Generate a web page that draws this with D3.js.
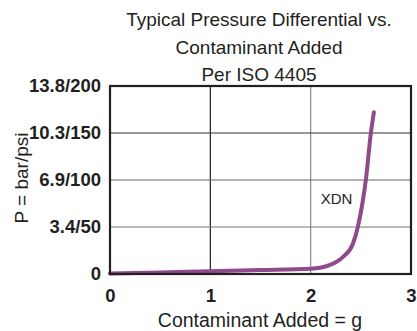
<!DOCTYPE html>
<html><head><meta charset="utf-8">
<script src="https://cdn.jsdelivr.net/npm/d3@7"></script>
<style>body{margin:0;background:#fff;}svg{display:block;}text{font-family:"Liberation Sans",Arial,sans-serif;fill:#231f20;}</style>
</head><body>
<script>
const titleLines = ["Typical Pressure Differential vs.", "Contaminant Added", "Per ISO 4405"];
const xTicks = [0, 1, 2, 3];
const yTicks = [0, 50, 100, 150, 200];
const yTickLabels = ["0", "3.4/50", "6.9/100", "10.3/150", "13.8/200"];
const gridColorsX = ["#231f20", "#231f20", "#8a8a8a", "#231f20"];
const gridColorsY = ["#231f20", "#777", "#666", "#333", "#231f20"];
const seriesName = "XDN";
const contaminant = [0, 0.5, 1, 1.5, 2, 2.2, 2.32, 2.42, 2.47, 2.52, 2.55, 2.6, 2.63];
const pressure =    [0.5, 1.6, 3, 4.2, 5.6, 10, 18, 32, 50, 78, 100, 150, 172];

const W = 417, H = 331;
const m = {left: 110, right: 6, top: 86, bottom: 57};
const svg = d3.select("body").append("svg").attr("width", W).attr("height", H);
const x = d3.scaleLinear().domain([0, 3]).range([m.left, W - m.right]);
const y = d3.scaleLinear().domain([0, 200]).range([H - m.bottom, m.top]);

// title
svg.selectAll("text.title").data(titleLines).join("text")
  .attr("class", "title").attr("x", 259).attr("y", (d, i) => 26 + i * 27.5)
  .attr("text-anchor", "middle").style("font-size", "19px").text(d => d);

// gridlines
svg.append("g").selectAll("line").data(xTicks.slice(1, 3)).join("line")
  .attr("x1", d => x(d)).attr("x2", d => x(d)).attr("y1", y(200)).attr("y2", y(0))
  .attr("stroke", (d) => gridColorsX[d]).attr("stroke-width", 1.2);
svg.append("g").selectAll("line").data(yTicks.slice(1, 4)).join("line")
  .attr("x1", x(0)).attr("x2", x(3)).attr("y1", d => y(d)).attr("y2", d => y(d))
  .attr("stroke", (d, i) => gridColorsY[i + 1]).attr("stroke-width", 1.2);

// y axis labels
const yAxis = d3.axisLeft(y).tickValues(yTicks).tickSize(0).tickPadding(9)
  .tickFormat((d, i) => yTickLabels[i]);
svg.append("g").attr("transform", `translate(${m.left},0)`).call(yAxis)
  .call(g => g.select(".domain").remove())
  .selectAll("text").style("font-size", "18.5px").style("font-weight", "bold")
  .style("font-family", "'Liberation Sans', Arial, sans-serif").attr("fill", "#231f20");

// x axis labels
const xAxis = d3.axisBottom(x).tickValues(xTicks).tickSize(0).tickPadding(15).tickFormat(d3.format("d"));
svg.append("g").attr("transform", `translate(0,${y(0)})`).call(xAxis)
  .call(g => g.select(".domain").remove())
  .selectAll("text").style("font-size", "18.5px").style("font-weight", "bold")
  .style("font-family", "'Liberation Sans', Arial, sans-serif").attr("fill", "#231f20");

// line
const line = d3.line().x(d => x(d[0])).y(d => y(d[1])).curve(d3.curveMonotoneX);
svg.append("path").datum(contaminant.map((c, i) => [c, pressure[i]]))
  .attr("d", line).attr("fill", "none").attr("stroke", "#8e4a8c")
  .attr("stroke-width", 4).attr("stroke-linecap", "round");

// frame
svg.append("rect").attr("x", x(0)).attr("y", y(200)).attr("width", x(3) - x(0)).attr("height", y(0) - y(200))
  .attr("fill", "none").attr("stroke", "#231f20").attr("stroke-width", 2.2);

// series label
svg.append("text").attr("x", x(2.1)).attr("y", y(80)).attr("dy", "0.35em")
  .style("font-size", "15px").text(seriesName);

// axis titles
svg.append("text").attr("x", 260).attr("y", 327).attr("text-anchor", "middle")
  .style("font-size", "19.5px").text("Contaminant Added = g");
svg.append("text").attr("transform", `translate(28,${(y(0) + y(200)) / 2 - 2}) rotate(-90)`)
  .attr("text-anchor", "middle").style("font-size", "19px").text("P = bar/psi");
</script>
</body></html>
